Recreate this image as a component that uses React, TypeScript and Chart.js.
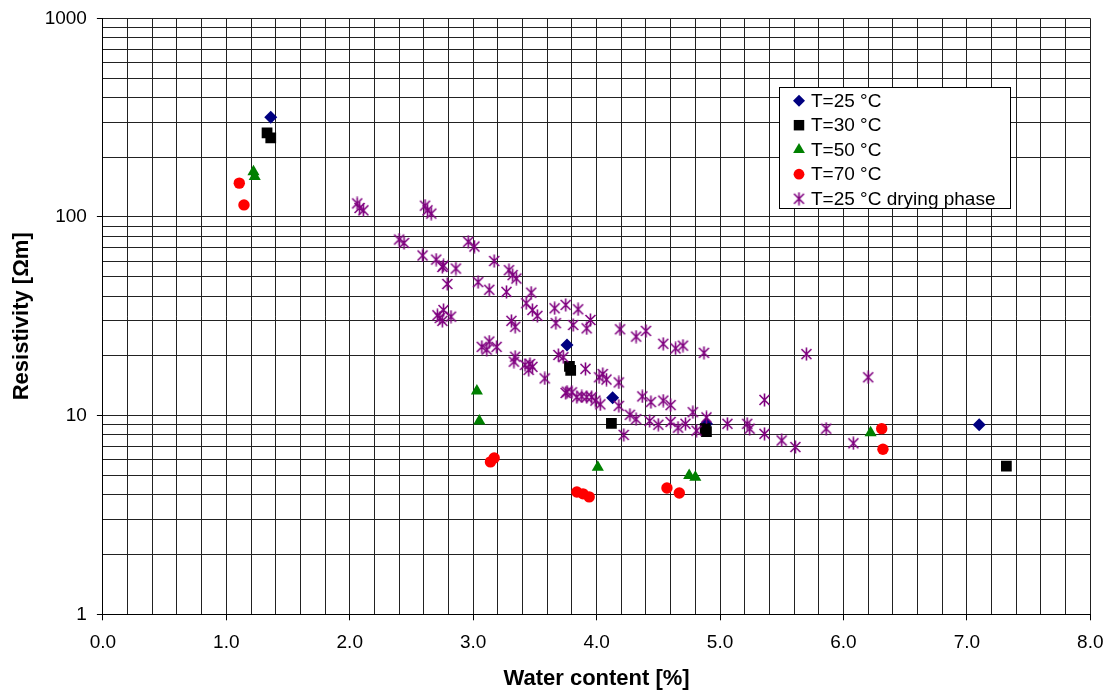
import React, { useEffect, useRef } from 'react';
import { Chart, registerables } from 'chart.js';
import { drawPoint } from 'chart.js/helpers';

Chart.register(...registerables);

// ---------- data ----------
const T25_X = [1.36, 3.76, 4.13, 4.89, 7.1];
const T25_Y = [318, 22.7, 12.3, 9.1, 9.0];

const T30_X = [1.33, 1.36, 3.78, 3.79, 4.12, 4.88, 4.89, 7.32];
const T30_Y = [265, 250, 17.7, 16.9, 9.15, 8.6, 8.3, 5.57];

const T50_X = [1.22, 1.23, 3.03, 3.05, 4.01, 4.75, 4.8, 6.22];
const T50_Y = [169, 160, 13.3, 9.4, 5.5, 5.0, 4.9, 8.2];

const T70_X = [1.105, 1.143, 3.14, 3.17, 3.84, 3.89, 3.94, 4.57, 4.67, 6.31, 6.32];
const T70_Y = [148, 115, 5.85, 6.12, 4.13, 4.04, 3.9, 4.32, 4.08, 8.6, 6.77];

const DRY_X = [
  2.06, 2.08, 2.11, 2.61, 2.63, 2.66, 2.4, 2.44, 2.59, 2.7,
  2.75, 2.76, 2.86, 2.96, 3.01, 3.17, 3.29, 3.32, 3.35, 2.79,
  3.04, 3.13, 3.27, 2.71, 2.75, 2.76, 2.82, 2.73, 3.31, 3.34,
  3.07, 3.13, 3.19, 3.11, 3.47, 3.43, 3.48, 3.52, 3.66, 3.75,
  3.67, 3.85, 3.81, 3.92, 3.95, 4.19, 4.32, 4.4, 4.54, 4.64,
  4.7, 4.87, 3.34, 3.33, 3.42, 3.45, 3.48, 3.46, 3.58, 3.69,
  3.73, 3.75, 3.91, 4.02, 4.05, 4.08, 4.18, 3.76, 3.8, 3.84,
  3.88, 3.92, 3.96, 3.99, 4.03, 4.18, 4.27, 4.32, 4.22, 4.37,
  4.44, 4.54, 4.6, 4.43, 4.5, 4.6, 4.66, 4.72, 4.78, 4.81,
  4.89, 5.06, 5.22, 5.24, 5.36, 5.36, 5.5, 5.61, 5.7, 5.86,
  6.08, 6.2,
];
const DRY_Y = [
  117, 111, 108, 114, 108, 104, 77, 74, 64, 61,
  56, 57, 55, 75, 71, 60, 54, 51, 49, 46,
  47, 43, 42, 32, 30, 34, 31.5, 31, 30, 28,
  22.2, 23.6, 22.2, 21.5, 41.6, 36.8, 34, 31.8, 34.7, 36.1,
  29.2, 34.3, 28.6, 27.5, 30.3, 27.2, 25, 26.7, 23, 21.8,
  22.5, 20.7, 19.8, 18.7, 18, 17, 17.6, 18.2, 15.4, 20.2,
  19.7, 13, 17.2, 15.6, 16.2, 15.2, 14.7, 13.2, 13.1, 12.4,
  12.5, 12.4, 12.4, 11.9, 11.4, 11.2, 10.1, 9.6, 8, 12.5,
  11.7, 11.9, 11.3, 9.4, 9, 9.3, 8.7, 9.1, 10.4, 8.4,
  9.8, 9.1, 9.1, 8.6, 8.1, 12, 7.5, 6.95, 20.4, 8.6,
  7.26, 15.6,
];

const SERIES_LABELS = ['T=25 °C', 'T=30 °C', 'T=50 °C', 'T=70 °C', 'T=25 °C drying phase'];

const X_GRID = [
  0, 0.2, 0.4, 0.6, 0.8, 1, 1.2, 1.4, 1.6, 1.8,
  2, 2.2, 2.4, 2.6, 2.8, 3, 3.2, 3.4, 3.6, 3.8,
  4, 4.2, 4.4, 4.6, 4.8, 5, 5.2, 5.4, 5.6, 5.8,
  6, 6.2, 6.4, 6.6, 6.8, 7, 7.2, 7.4, 7.6, 7.8, 8,
];
const Y_GRID = [
  1, 2, 3, 4, 5, 6, 7, 8, 9,
  10, 20, 30, 40, 50, 60, 70, 80, 90,
  100, 200, 300, 400, 500, 600, 700, 800, 900, 1000,
];
const Y_LABELS = [1, 10, 100, 1000];

const X_TITLE = 'Water content [%]';
const Y_TITLE = 'Resistivity [Ωm]';

const FONT = '"Liberation Sans", Arial, sans-serif';

const zip = (xs: number[], ys: number[]) => xs.map((x, i) => ({ x, y: ys[i] }));

function makeStar(): HTMLCanvasElement {
  const c = document.createElement('canvas');
  c.width = 13;
  c.height = 14;
  const g = c.getContext('2d')!;
  g.strokeStyle = '#800080';
  g.lineWidth = 1.6;
  g.lineCap = 'butt';
  g.beginPath();
  g.moveTo(1.5, 2);
  g.lineTo(11.5, 12);
  g.moveTo(11.5, 2);
  g.lineTo(1.5, 12);
  g.moveTo(6.5, 0.5);
  g.lineTo(6.5, 13.5);
  g.stroke();
  return c;
}

const isInt = (v: number) => Math.abs(v - Math.round(v)) < 1e-6;
const isDecade = (v: number) => Y_LABELS.some((d) => Math.abs(d - v) < 1e-6);

const legendPlugin = {
  id: 'boxLegend',
  afterDraw(chart: any) {
    const ctx = chart.ctx as CanvasRenderingContext2D;
    ctx.save();
    ctx.fillStyle = '#fff';
    ctx.fillRect(779, 87, 232, 122);
    ctx.strokeStyle = '#000';
    ctx.lineWidth = 1;
    ctx.strokeRect(779.5, 87.5, 231, 121);
    chart.data.datasets.forEach((ds: any, i: number) => {
      const y = 100.7 + i * 24.5;
      ctx.fillStyle = ds.backgroundColor;
      drawPoint(
        ctx,
        { pointStyle: ds.pointStyle, radius: ds.legendRadius, borderWidth: 0, rotation: 0 } as any,
        799,
        y
      );
      ctx.fillStyle = '#000';
      ctx.font = `19px ${FONT}`;
      ctx.textBaseline = 'middle';
      ctx.textAlign = 'left';
      ctx.fillText(ds.label, 811, y + 1);
    });
    ctx.restore();
  },
};

export default function App() {
  const ref = useRef<HTMLCanvasElement | null>(null);

  useEffect(() => {
    if (!ref.current) return;
    const star = makeStar();
    const chart = new Chart(ref.current, {
      type: 'scatter',
      data: {
        datasets: [
          {
            label: SERIES_LABELS[0],
            data: zip(T25_X, T25_Y),
            pointStyle: 'rectRot',
            pointRadius: 6.5,
            backgroundColor: '#000080',
            borderColor: '#000080',
            pointBorderWidth: 0,
            order: 5,
            legendRadius: 6,
          } as any,
          {
            label: SERIES_LABELS[1],
            data: zip(T30_X, T30_Y),
            pointStyle: 'rect',
            pointRadius: 7.6,
            backgroundColor: '#000000',
            borderColor: '#000000',
            pointBorderWidth: 0,
            order: 4,
            legendRadius: 7.4,
          } as any,
          {
            label: SERIES_LABELS[2],
            data: zip(T50_X, T50_Y),
            pointStyle: 'triangle',
            pointRadius: 7,
            backgroundColor: '#008000',
            borderColor: '#008000',
            pointBorderWidth: 0,
            order: 3,
            legendRadius: 6.8,
          } as any,
          {
            label: SERIES_LABELS[3],
            data: zip(T70_X, T70_Y),
            pointStyle: 'circle',
            pointRadius: 5.7,
            backgroundColor: '#ff0000',
            borderColor: '#ff0000',
            pointBorderWidth: 0,
            order: 2,
            legendRadius: 5.4,
          } as any,
          {
            label: SERIES_LABELS[4],
            data: zip(DRY_X, DRY_Y),
            pointStyle: star,
            pointRadius: 6,
            backgroundColor: '#800080',
            borderColor: '#800080',
            pointBorderWidth: 0,
            order: 1,
            legendRadius: 6,
          } as any,
        ],
      },
      options: {
        animation: false,
        responsive: true,
        maintainAspectRatio: false,
        layout: { padding: { left: 0, right: 17.7, top: 18.3, bottom: 0 } },
        plugins: {
          legend: { display: false },
          tooltip: { enabled: false },
        },
        scales: {
          x: {
            type: 'linear',
            min: 0,
            max: 8,
            afterBuildTicks: (scale: any) => {
              scale.ticks = X_GRID.map((v) => ({ value: v }));
            },
            afterFit: (scale: any) => {
              scale.height = 77.7;
              scale.paddingLeft = 0;
              scale.paddingRight = 0;
            },
            ticks: {
              autoSkip: false,
              maxRotation: 0,
              minRotation: 0,
              padding: 11,
              color: '#000',
              font: { family: FONT, size: 19 },
              callback: (v: any) => (isInt(Number(v)) ? Number(v).toFixed(1) : ''),
            },
            grid: {
              color: '#222',
              lineWidth: 1,
              tickLength: 6,
              tickColor: (c: any) => (c.tick && isInt(c.tick.value) ? '#000' : 'rgba(0,0,0,0)'),
            },
            border: { color: '#000', width: 1 },
            title: {
              display: true,
              text: X_TITLE,
              color: '#000',
              font: { family: FONT, size: 22, weight: 'bold' },
              padding: { top: 0, bottom: 0 },
            },
          },
          y: {
            type: 'logarithmic',
            min: 1,
            max: 1000,
            afterBuildTicks: (scale: any) => {
              scale.ticks = Y_GRID.map((v) => ({ value: v }));
            },
            afterFit: (scale: any) => {
              scale.width = 102.9;
              scale.paddingTop = 0;
              scale.paddingBottom = 0;
            },
            ticks: {
              autoSkip: false,
              padding: 10,
              color: '#000',
              font: { family: FONT, size: 19 },
              callback: (v: any) => (isDecade(Number(v)) ? String(Number(v)) : ''),
            },
            grid: {
              color: '#222',
              lineWidth: 1,
              tickLength: 6,
              tickColor: (c: any) => (c.tick && isDecade(c.tick.value) ? '#000' : 'rgba(0,0,0,0)'),
            },
            border: { color: '#000', width: 1 },
            title: {
              display: true,
              text: Y_TITLE,
              color: '#000',
              font: { family: FONT, size: 22, weight: 'bold' },
              padding: { top: 9, bottom: 0 },
            },
          },
        },
      } as any,
      plugins: [legendPlugin],
    });
    return () => chart.destroy();
  }, []);

  return (
    <div style={{ position: 'fixed', left: 0, top: 0, width: 1108, height: 692, background: '#fff' }}>
      <canvas ref={ref} />
    </div>
  );
}
